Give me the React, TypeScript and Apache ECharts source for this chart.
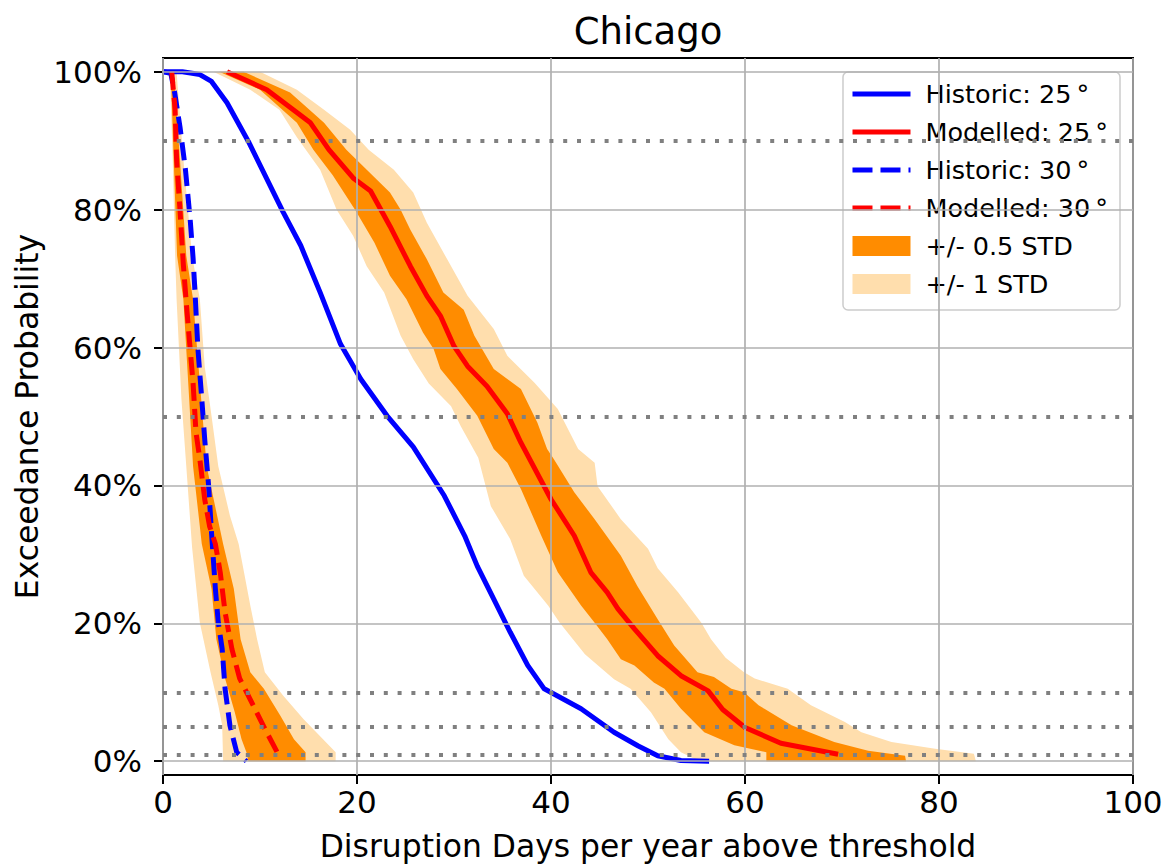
import React, { useEffect, useRef } from "react";
import * as echarts from "echarts";

const FONT = "DejaVu Sans";

// Axis ticks and reference levels
const xTicks = [0, 20, 40, 60, 80, 100];
const yTicks = [0, 20, 40, 60, 80, 100];
const hLines = [90, 50, 10, 5, 1];

const legendNames = [
  "Historic: 25\u2009°",
  "Modelled: 25\u2009°",
  "Historic: 30\u2009°",
  "Modelled: 30\u2009°",
  "+/- 0.5 STD",
  "+/- 1 STD",
];

// Curves: [days, exceedance %]
const historic25 = [[0,100],[2,100],[3,99.8],[3.8,99.6],[5,98.6],[6.6,95.5],[8.8,89.9],[12.4,79.6],[14.2,74.8],[16.2,68],[18.3,60.5],[20.4,55.4],[23.1,50.1],[25.8,45.6],[29,38.5],[31.1,32.7],[32.4,28.3],[34.1,23.5],[35.8,18.7],[37.6,13.9],[39.3,10.5],[40.3,9.75],[43.1,7.6],[46.5,4.2],[49,2.2],[51,0.8],[53.4,0.1],[56.3,0]];
const modelled25 = [[6.6,100],[10.7,97.4],[15.2,92.6],[17.1,88.7],[19.6,84.6],[21.4,82.7],[23.4,77.6],[25.5,71.8],[27.2,67.5],[28.6,64.6],[30,60.2],[31.4,57.3],[33.4,54.4],[35.5,50.4],[36.9,46.2],[40,38],[42.4,32.7],[44.1,27.4],[45.8,24.5],[46.9,22.1],[48.6,19.2],[51,15.3],[53.4,12.4],[56.2,10.2],[57.7,7.5],[60,4.9],[63.7,2.6],[69.6,1.0]];
const historic30 = [[0,100],[0.8,99.8],[1.2,97],[1.75,92],[2.3,86],[2.8,78.6],[3.1,73],[3.3,68],[3.6,59.8],[4.0,52.5],[4.3,46.7],[4.7,40],[5.0,33.2],[5.4,25],[5.7,20.1],[6.1,16.3],[6.4,10.5],[6.9,5.2],[7.6,1.3],[8.6,0]];
const modelled30 = [[0.9,100],[1.25,94.5],[1.4,87.3],[1.75,80],[2.1,72],[2.4,66.5],[2.8,59.8],[3.1,54.9],[3.4,47.7],[3.8,43.8],[4.3,38],[4.8,34.1],[5.4,31.5],[5.9,27.4],[6.4,21.6],[7.1,16.3],[7.9,12],[9.3,8.1],[10.5,4.7],[11.7,1.5],[11.8,1.2]];

// Band edges (25°)
const band25Lo1 = [[5.2,100],[9,97.4],[12,94.5],[13.8,90.5],[16.2,85.8],[17.9,80],[19.6,76.2],[21,71.8],[22.8,68],[24.5,61.7],[25.8,58.3],[27.4,54.8],[29.7,51.5],[30.7,48.6],[32.5,44],[33.8,37],[35.8,32.2],[37.2,26.9],[39.7,22.6],[40.9,20.1],[43.5,15.5],[46.5,11.9],[48.2,10.5],[50.3,7.1],[52.1,3.2],[53.4,1.3],[55.3,0]];
const band25Lo05 = [[5.8,100],[10,97.4],[13.8,92.6],[15.5,88.7],[17.5,85],[19.8,80],[21.8,75.2],[23.4,70.4],[25.1,67],[26.8,62.2],[27.9,59.8],[28.6,56.9],[30.3,54],[32.4,50.1],[34.1,45.3],[35.5,43.3],[36.9,39.5],[39,32.7],[40.7,27.4],[43.1,22.6],[44.5,20.1],[45.8,17.7],[47.2,14.8],[48.6,13.9],[50.6,11.4],[51.7,10.5],[53.4,7.6],[55.8,4.2],[58.9,2.3],[62.2,1.3],[62.2,0]];
const band25Hi05 = [[8.3,100],[13.1,97],[16.6,92.6],[18.9,88.7],[23.4,82.5],[24.5,80],[25.5,77.1],[27.2,72.8],[28.9,68],[31,65.5],[32.1,61.7],[34.1,56.9],[36.9,54],[38.6,49.1],[39.6,45.3],[40.3,43.8],[42.4,39],[44.5,35.1],[47.2,29.8],[48.9,25.4],[51,20.6],[52.7,16.8],[55.1,12.9],[56.8,12.2],[58.6,10.5],[59.9,10],[61.4,8.1],[62,7.6],[64.8,5.2],[69.2,2.8],[72.7,1.5],[76.5,0.8],[76.6,0]];
const band25Hi1 = [[10,100],[13.8,97.4],[16.6,94.5],[19.3,91.6],[21.2,88.7],[23.8,85.8],[25.8,82.5],[27.2,78.1],[29.3,72.8],[31.4,67.5],[34.1,62.7],[35.5,58.8],[38.3,54.9],[40.7,51.1],[42.8,45.3],[44.5,43.3],[44.8,39.9],[47.2,35.1],[50,30.8],[51,28],[53.1,24.5],[55.5,20.1],[56.5,17.7],[58,15],[59.9,12.9],[61,12],[64.4,10.5],[66.8,8.1],[70.3,5.7],[72,4.2],[75.1,2.8],[79.6,1.8],[83.6,1.1],[83.8,0]];

// Band edges (30°)
const band30Lo1 = [[0.7,100],[1.0,87.3],[1.25,73.3],[1.4,67],[1.9,52.5],[2.4,42.8],[3.0,31],[3.8,20.1],[4.9,12.9],[5.7,8.1],[6.1,5.2],[6.2,0]];
const band30Lo05 = [[0.8,100],[1.1,87.3],[1.45,73.3],[2.1,67],[2.6,54.9],[3.1,42.8],[4.0,31.5],[5.0,25],[5.5,17.7],[6.4,12],[7.4,7.1],[8.1,3.2],[8.6,1.3],[8.8,0]];
const band30Hi05 = [[1.1,100],[1.75,87.3],[2.4,73.3],[3.1,67],[3.8,54.9],[4.5,42.8],[6.2,31.5],[7.3,25],[8.0,17.7],[9.0,12.9],[10.4,10.5],[12.1,6.6],[13.5,3.2],[14.7,1.3],[14.7,0]];
const band30Hi1 = [[1.4,100],[2.1,87.3],[3.0,73.3],[3.8,67],[4.3,57.3],[5.0,50.1],[5.7,42.8],[6.9,35.6],[7.8,31.5],[9.0,22.6],[9.7,17.7],[10.5,12.9],[12.4,9.5],[14.5,6.1],[16.5,3.2],[17.8,1.3],[17.8,0]];

const poly = (lo: number[][], hi: number[][]) => lo.concat(hi.slice().reverse());
const lightPolys = [poly(band25Lo1, band25Hi1), poly(band30Lo1, band30Hi1)];
const darkPolys = [poly(band25Lo05, band25Hi05), poly(band30Lo05, band30Hi05)];

const BLUE = "#0000ff";
const RED = "#ff0000";
const DARK = "#ff8c00";
const LIGHT = "#ffdead";
const DASH = [18, 8];

export default function App() {
  const ref = useRef<HTMLDivElement>(null);
  useEffect(() => {
    const chart = echarts.init(ref.current!, null, { renderer: "svg" });
    const bandSeries = (name: string, polys: number[][][], color: string) => ({
      type: "custom",
      name,
      z: 1,
      itemStyle: { color },
      data: polys.map(() => [0, 0]),
      renderItem: (params: any, api: any) => ({
        type: "polygon",
        shape: { points: polys[params.dataIndex].map((p) => api.coord(p)) },
        style: { fill: color, stroke: "none" },
      }),
    });
    const lineSeries = (name: string, data: number[][], color: string, dashed: boolean) => ({
      type: "line",
      name,
      z: 3,
      data,
      showSymbol: false,
      symbol: "none",
      smooth: false,
      lineStyle: { color, width: 5, type: dashed ? DASH : "solid", cap: "butt", join: "round" },
      itemStyle: { color },
    });
    const lineLegend = (name: string, color: string, dashed: boolean) => ({
      name,
      itemStyle: { opacity: 0 },
      lineStyle: { color, width: 5, type: dashed ? [20, 8] : "solid", cap: "butt" },
    });
    const option = {
      animation: false,
      backgroundColor: "#fff",
      textStyle: { fontFamily: FONT },
      grid: {
        left: 163, top: 58, width: 970, height: 719,
        show: true, borderColor: "#000", borderWidth: 2, backgroundColor: "transparent",
        containLabel: false,
      },
      graphic: [
        {
          type: "text",
          x: 648, y: 31,
          style: { text: "Chicago", fontSize: 37, fontFamily: FONT, fill: "#000", textAlign: "center", textVerticalAlign: "middle" },
        },
      ],
      legend: {
        orient: "vertical",
        right: 51, top: 72,
        align: "left",
        itemWidth: 58, itemHeight: 20,
        itemGap: 12,
        padding: [9, 12, 13, 7],
        backgroundColor: "rgba(255,255,255,0.8)",
        borderColor: "#cccccc", borderWidth: 1.5, borderRadius: 5,
        textStyle: { fontSize: 25.5, fontFamily: FONT, color: "#000", lineHeight: 24, padding: [0, 0, 0, 10] },
        data: [
          lineLegend(legendNames[0], BLUE, false),
          lineLegend(legendNames[1], RED, false),
          lineLegend(legendNames[2], BLUE, true),
          lineLegend(legendNames[3], RED, true),
          { name: legendNames[4], icon: "rect" },
          { name: legendNames[5], icon: "rect" },
        ],
      },
      xAxis: {
        type: "value", min: 0, max: 100, interval: 20,
        axisLine: { show: true, onZero: false, lineStyle: { color: "#000", width: 2 } },
        axisTick: { show: true, length: 9, lineStyle: { color: "#000", width: 2 } },
        axisLabel: { fontSize: 31, color: "#000", fontFamily: FONT, margin: 11 },
        splitLine: { show: false },
        name: "Disruption Days per year above threshold",
        nameLocation: "middle", nameGap: 55,
        nameTextStyle: { fontSize: 31.4, color: "#000", fontFamily: FONT },
      },
      yAxis: {
        type: "value", min: -2, max: 102,
        axisLine: { show: true, onZero: false, lineStyle: { color: "#000", width: 2 } },
        axisTick: { show: true, length: 9, lineStyle: { color: "#000", width: 2 }, customValues: yTicks },
        axisLabel: { customValues: yTicks, formatter: (v: number) => `${Math.round(v)}%`, fontSize: 31, color: "#000", fontFamily: FONT, margin: 21 },
        splitLine: { show: false },
        name: "Exceedance Probability",
        nameLocation: "middle", nameGap: 106,
        nameTextStyle: { fontSize: 31.4, color: "#000", fontFamily: FONT },
      },
      series: [
        bandSeries(legendNames[5], lightPolys, LIGHT),
        bandSeries(legendNames[4], darkPolys, DARK),
        {
          type: "line",
          name: "grid",
          z: 2,
          data: [],
          markLine: {
            silent: true,
            symbol: ["none", "none"],
            label: { show: false },
            lineStyle: { color: "#b0b0b0", width: 1.7, type: "solid" },
            data: [
              ...xTicks.map((v) => ({ xAxis: v })),
              ...yTicks.map((v) => ({ yAxis: v })),
            ],
          },
        },
        lineSeries(legendNames[0], historic25, BLUE, false),
        lineSeries(legendNames[1], modelled25, RED, false),
        lineSeries(legendNames[2], historic30, BLUE, true),
        lineSeries(legendNames[3], modelled30, RED, true),
        {
          type: "line",
          name: "levels",
          z: 4,
          data: [],
          markLine: {
            silent: true,
            symbol: ["none", "none"],
            label: { show: false },
            lineStyle: { color: "#808080", width: 4, type: [4, 9.8], cap: "butt" },
            data: hLines.map((v) => ({ yAxis: v })),
          },
        },
      ],
    };
    chart.setOption(option as any);
    return () => chart.dispose();
  }, []);
  return (
    <div
      ref={ref}
      style={{ position: "absolute", left: 0, top: 0, width: 1171, height: 866, background: "#fff" }}
    />
  );
}
